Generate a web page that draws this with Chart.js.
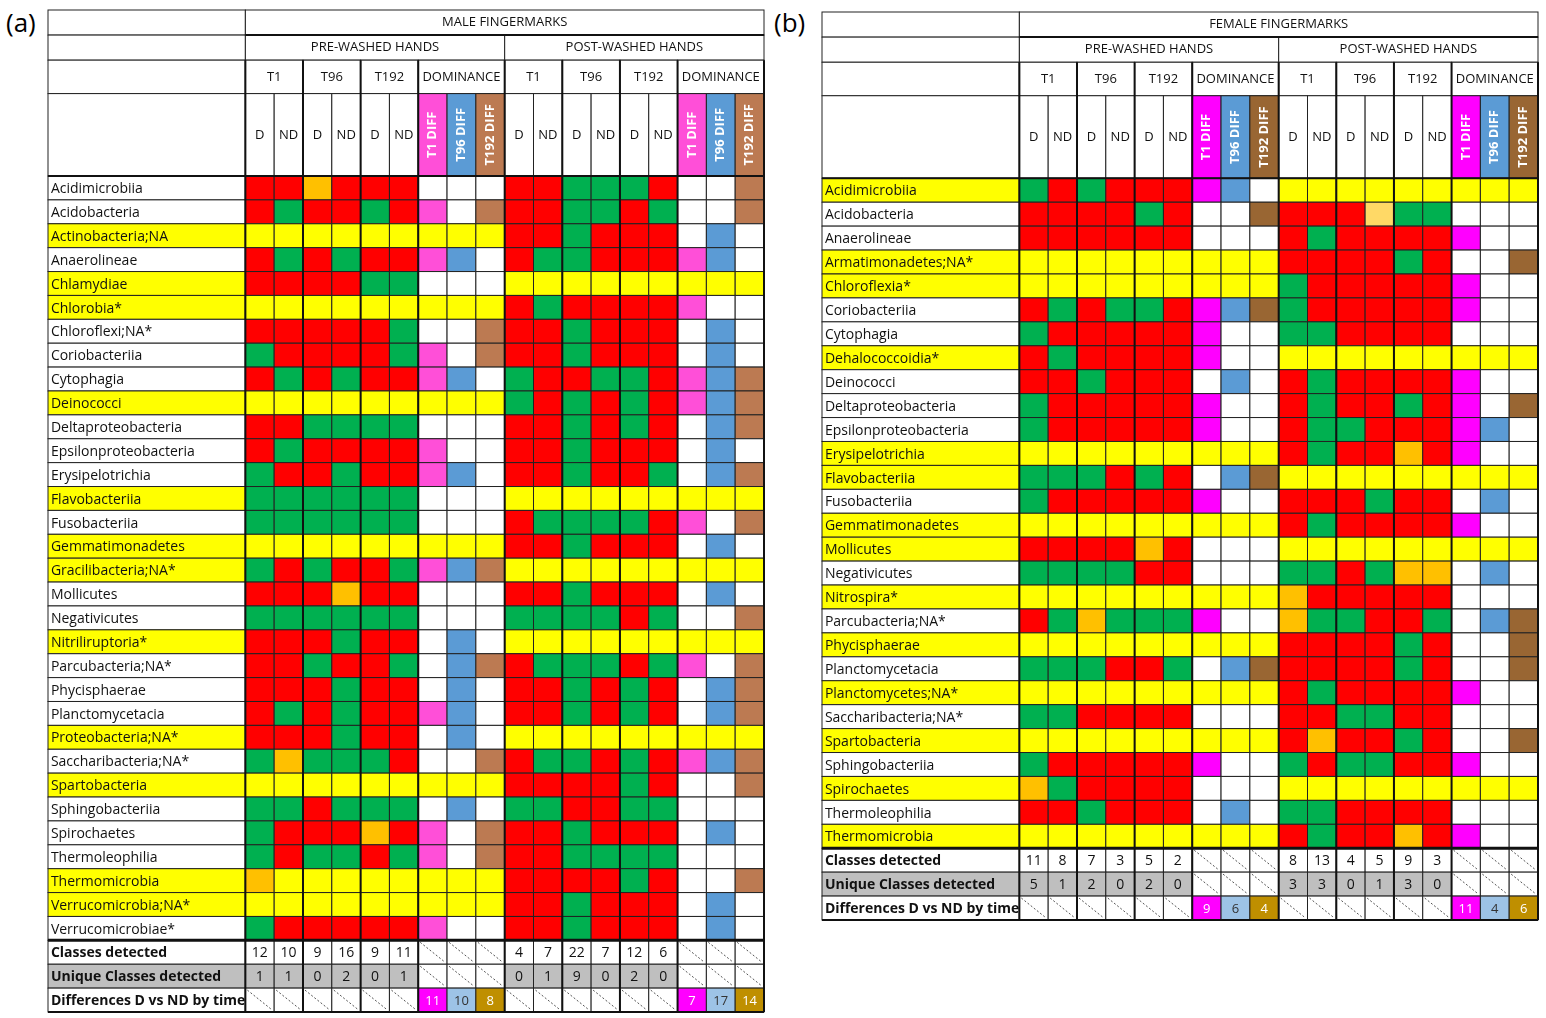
<!DOCTYPE html>
<html>
<head>
<meta charset="utf-8">
<script src="https://cdn.jsdelivr.net/npm/chart.js@4/dist/chart.umd.min.js"></script>
<style>
  body { margin: 0; background: #fff; width: 1546px; height: 1018px; position: relative; overflow: hidden; }
  canvas { position: absolute; }
  .tag { position: absolute; font: 26px "Open Sans", sans-serif; color: #000; }
</style>
</head>
<body>
<div class="tag" style="left:6px;top:4px">(a)</div>
<div class="tag" style="left:774px;top:4px">(b)</div>
<canvas id="male" width="720" height="1006" style="left:46px;top:8px"></canvas>
<canvas id="female" width="720" height="912" style="left:820px;top:10px"></canvas>
<script>
// cell codes: R red, G green, Y yellow, O orange, L light orange, W white, M T1 diff, B T96 diff, N T192 diff
// columns: pre T1 D,ND T96 D,ND T192 D,ND dom(T1,T96,T192) | post same
const maleClasses = ["Acidimicrobiia", "Acidobacteria", "Actinobacteria;NA", "Anaerolineae", "Chlamydiae", "Chlorobia*",
  "Chloroflexi;NA*", "Coriobacteriia", "Cytophagia", "Deinococci", "Deltaproteobacteria", "Epsilonproteobacteria",
  "Erysipelotrichia", "Flavobacteriia", "Fusobacteriia", "Gemmatimonadetes", "Gracilibacteria;NA*", "Mollicutes",
  "Negativicutes", "Nitriliruptoria*", "Parcubacteria;NA*", "Phycisphaerae", "Planctomycetacia", "Proteobacteria;NA*",
  "Saccharibacteria;NA*", "Spartobacteria", "Sphingobacteriia", "Spirochaetes", "Thermoleophilia", "Thermomicrobia",
  "Verrucomicrobia;NA*", "Verrucomicrobiae*"];
const maleYellow = [0,0,1,0,1,1,0,0,0,1,0,0,0,1,0,1,1,0,0,1,0,0,0,1,0,1,0,0,0,1,1,0];
const maleCells = [
  "RRORRR WWW RRGGGR WWN", "RGRRGR MWN RRGGRG WWN", "YYYYYY YYY RRGRRR WBW", "RGRGRR MBW RGGRRR MBW",
  "RRRRGG WWW YYYYYY YYY", "YYYYYY YYY RGRRRR MWW", "RRRRRG WWN RRGRRR WBW", "GRRRRG MWN RRGRRR WBW",
  "RGRGRR MBW GRRGGR MBN", "YYYYYY YYY GRGRGR MBN", "RRGGGG WWW RRGRGR WBN", "RGRRRR MWW RRGRRR WBW",
  "GRRGRR MBW RRGRRG WBN", "GGGGGG WWW YYYYYY YYY", "GGGGGG WWW RGGGGR MWN", "YYYYYY YYY RRGRRR WBW",
  "GRGRRG MBN YYYYYY YYY", "RRRORR WWW RRGRRR WBW", "GGGGGG WWW GGGGRG WWN", "RRRGRR WBW YYYYYY YYY",
  "RRGRRG WBN RGGGRG MWN", "RRRGRR WBW RRGRGR WBN", "RGRGRR MBW RRGRGR WBN", "RRRGRR WBW YYYYYY YYY",
  "GOGGGR WWN RGGRGR MBN", "YYYYYY YYY RRRRGR WWN", "GGRGGG WBW GGRRGG WWW", "GRRROR MWN RRGRRR WBW",
  "GRGGRG MWN RRGGGG WWW", "OYYYYY YYY RRRRGR WWN", "YYYYYY YYY RRGRRR WBW", "GRRRRR MWW RRGRRR WBW"];
const maleDetected = [12, 10, 9, 16, 9, 11, 4, 7, 22, 7, 12, 6];
const maleUnique = [1, 1, 0, 2, 0, 1, 0, 1, 9, 0, 2, 0];
const maleDiff = [11, 10, 8, 7, 17, 14];

const femaleClasses = ["Acidimicrobiia", "Acidobacteria", "Anaerolineae", "Armatimonadetes;NA*", "Chloroflexia*",
  "Coriobacteriia", "Cytophagia", "Dehalococcoidia*", "Deinococci", "Deltaproteobacteria", "Epsilonproteobacteria",
  "Erysipelotrichia", "Flavobacteriia", "Fusobacteriia", "Gemmatimonadetes", "Mollicutes", "Negativicutes",
  "Nitrospira*", "Parcubacteria;NA*", "Phycisphaerae", "Planctomycetacia", "Planctomycetes;NA*", "Saccharibacteria;NA*",
  "Spartobacteria", "Sphingobacteriia", "Spirochaetes", "Thermoleophilia", "Thermomicrobia"];
const femaleYellow = [1,0,0,1,1,0,0,1,0,0,0,1,1,0,1,1,0,1,0,1,0,1,0,1,0,1,0,1];
const femaleCells = [
  "GRGRRR MBW YYYYYY YYY", "RRRRGR WWN RRRLGG WWW", "RRRRRR WWW RGRRRR MWW", "YYYYYY YYY RRRRGR WWN",
  "YYYYYY YYY GRRRRR MWW", "RGRGGR MBN GRRRRR MWW", "GRRRRR MWW GGRRRR WWW", "RGRRRR MWW YYYYYY YYY",
  "RRGRRR WBW RGRRRR MWW", "GRRRRR MWW RGRRGR MWN", "GRRRRR MWW RGGRRR MBW", "YYYYYY YYY RGRROR MWW",
  "GGGRGR WBN YYYYYY YYY", "GRRRRR MWW RRRGRR WBW", "YYYYYY YYY RGRRRR MWW", "RRRROR WWW YYYYYY YYY",
  "GGGGRR WWW GGRGOO WBW", "YYYYYY YYY ORRRRR WWW", "RGOGGG MWW OGGRRG WBN", "YYYYYY YYY RRRRGR WWN",
  "GGGRRG WBN RRRRGR WWN", "YYYYYY YYY RGRRRR MWW", "GGRRRR WWW RRGGRR WWW", "YYYYYY YYY RORRGR WWN",
  "GRRRRR MWW GRGGRR MWW", "OGRRRR WWW YYYYYY YYY", "RRGRRR WBW GGRRRR WWW", "YYYYYY YYY RGRROR MWW"];
const femaleDetected = [11, 8, 7, 3, 5, 2, 8, 13, 4, 5, 9, 3];
const femaleUnique = [5, 1, 2, 0, 2, 0, 3, 3, 0, 1, 3, 0];
const femaleDiff = [9, 6, 4, 11, 4, 6];

const LABEL_W = 6.85;
const HEAD = [0, 1.05, 2.1, 3.5, 6.95];
const FONT = '"Liberation Sans Narrow", "Arial Narrow", "Open Sans", sans-serif';

function palette(male) {
  return {
    R: "#FF0000", G: "#00B050", Y: "#FFFF00", O: "#FFC000", L: "#FFD966", W: "#FFFFFF",
    M: male ? "#FF4FD8" : "#FF00FF", B: "#5B9BD5", N: male ? "#BC7A52" : "#996633"
  };
}

function drawPanel(chart, p) {
  const ctx = chart.ctx;
  const X = v => chart.scales.x.getPixelForValue(v);
  const Y = v => chart.scales.y.getPixelForValue(v);
  const n = p.classes.length;
  const col = p.colors;

  function box(c0, c1, r0, r1, fill, lw) {
    const x0 = X(c0), x1 = X(c1), y0 = Y(r0), y1 = Y(r1);
    ctx.fillStyle = fill;
    ctx.fillRect(x0, y0, x1 - x0, y1 - y0);
    ctx.strokeStyle = "#222";
    ctx.lineWidth = lw || 1;
    ctx.strokeRect(x0, y0, x1 - x0, y1 - y0);
  }
  function text(s, c, r, align, size, bold, color) {
    ctx.fillStyle = color || "#111";
    ctx.font = (bold ? "bold " : "") + size + "px " + FONT;
    ctx.textAlign = align;
    ctx.textBaseline = "middle";
    ctx.fillText(s, X(c), Y(r));
  }
  function hatch(c, r) {
    box(c, c + 1, r, r + 1, "#fff");
    ctx.save();
    ctx.setLineDash([2, 2]);
    ctx.strokeStyle = "#555";
    ctx.beginPath();
    ctx.moveTo(X(c) + 2, Y(r) + 2);
    ctx.lineTo(X(c + 1) - 2, Y(r + 1) - 2);
    ctx.stroke();
    ctx.restore();
  }

  // header
  for (let h = 0; h < 4; h++) box(-LABEL_W, 0, HEAD[h], HEAD[h + 1], "#fff");
  box(0, 18, HEAD[0], HEAD[1], "#fff");
  text(p.title, 9, (HEAD[0] + HEAD[1]) / 2, "center", 13);
  [["PRE-WASHED HANDS", 0], ["POST-WASHED HANDS", 9]].forEach(([s, o]) => {
    box(o, o + 9, HEAD[1], HEAD[2], "#fff");
    text(s, o + 4.5, (HEAD[1] + HEAD[2]) / 2, "center", 13);
    [["T1", 0, 2], ["T96", 2, 4], ["T192", 4, 6], ["DOMINANCE", 6, 9]].forEach(([t, a, b]) => {
      box(o + a, o + b, HEAD[2], HEAD[3], "#fff");
      text(t, o + (a + b) / 2, (HEAD[2] + HEAD[3]) / 2, "center", 13);
    });
    for (let c = 0; c < 6; c++) {
      box(o + c, o + c + 1, HEAD[3], HEAD[4], "#fff");
      text(c % 2 ? "ND" : "D", o + c + 0.5, (HEAD[3] + HEAD[4]) / 2, "center", 13);
    }
    ["T1 DIFF", "T96 DIFF", "T192 DIFF"].forEach((t, k) => {
      box(o + 6 + k, o + 7 + k, HEAD[3], HEAD[4], col["MBN"[k]]);
      ctx.save();
      ctx.translate(X(o + 6.5 + k), Y((HEAD[3] + HEAD[4]) / 2));
      ctx.rotate(-Math.PI / 2);
      ctx.fillStyle = "#fff";
      ctx.font = "bold 13px " + FONT;
      ctx.textAlign = "center";
      ctx.textBaseline = "middle";
      ctx.fillText(t, 0, 0);
      ctx.restore();
    });
  });

  // class rows
  p.classes.forEach((name, i) => {
    const r = HEAD[4] + i;
    box(-LABEL_W, 0, r, r + 1, p.yellow[i] ? col.Y : "#fff");
    text(name, -LABEL_W + 0.1, r + 0.55, "left", 14);
    const codes = p.cells[i].replace(/ /g, "");
    for (let c = 0; c < 18; c++) box(c, c + 1, r, r + 1, col[codes[c]]);
  });

  // summary rows
  const s0 = HEAD[4] + n;
  const sumLabels = ["Classes detected", "Unique Classes detected", "Differences D vs ND by time"];
  sumLabels.forEach((s, j) => {
    const r = s0 + j;
    const bg = j === 1 ? "#BFBFBF" : "#fff";
    box(-LABEL_W, 0, r, r + 1, bg);
    text(s, -LABEL_W + 0.1, r + 0.55, "left", 14, true);
    for (let g = 0; g < 2; g++) {
      for (let c = 0; c < 6; c++) {
        const cc = g * 9 + c;
        if (j === 2) { hatch(cc, r); continue; }
        box(cc, cc + 1, r, r + 1, bg);
        const v = (j === 0 ? p.detected : p.unique)[g * 6 + c];
        text(String(v), cc + 0.5, r + 0.55, "center", 14);
      }
      for (let k = 0; k < 3; k++) {
        const cc = g * 9 + 6 + k;
        if (j < 2) { hatch(cc, r); continue; }
        box(cc, cc + 1, r, r + 1, ["#FF00FF", "#9DC3E6", "#BF8F00"][k]);
        text(String(p.diff[g * 3 + k]), cc + 0.5, r + 0.55, "center", 13, false, k === 1 ? "#333" : "#fff");
      }
    }
  });

  // heavier group lines
  ctx.strokeStyle = "#111";
  ctx.lineWidth = 2;
  [0, 2, 4, 6, 9, 11, 13, 15, 18].forEach(c => {
    ctx.beginPath();
    ctx.moveTo(X(c), Y(HEAD[2]));
    ctx.lineTo(X(c), Y(s0 + 3));
    ctx.stroke();
  });
  [HEAD[1], HEAD[4], s0 + 3].forEach(r => {
    ctx.beginPath();
    ctx.moveTo(X(r === HEAD[1] ? 0 : -LABEL_W), Y(r));
    ctx.lineTo(X(18), Y(r));
    ctx.stroke();
  });
  ctx.lineWidth = 3;
  ctx.beginPath();
  ctx.moveTo(X(-LABEL_W), Y(s0));
  ctx.lineTo(X(18), Y(s0));
  ctx.stroke();
}

function makePanel(id, p) {
  const total = HEAD[4] + p.classes.length + 3;
  new Chart(document.getElementById(id), {
    type: "scatter",
    data: { datasets: [] },
    options: {
      responsive: false,
      animation: false,
      events: [],
      layout: { padding: 2 },
      plugins: { legend: { display: false }, tooltip: { enabled: false } },
      scales: {
        x: { type: "linear", min: -LABEL_W, max: 18, display: false },
        y: { type: "linear", min: 0, max: total, reverse: true, display: false }
      }
    },
    plugins: [{ id: "table", afterDraw: chart => drawPanel(chart, p) }]
  });
}

makePanel("male", {
  title: "MALE FINGERMARKS", classes: maleClasses, yellow: maleYellow, cells: maleCells,
  detected: maleDetected, unique: maleUnique, diff: maleDiff, colors: palette(true)
});
makePanel("female", {
  title: "FEMALE FINGERMARKS", classes: femaleClasses, yellow: femaleYellow, cells: femaleCells,
  detected: femaleDetected, unique: femaleUnique, diff: femaleDiff, colors: palette(false)
});
</script>
</body>
</html>
